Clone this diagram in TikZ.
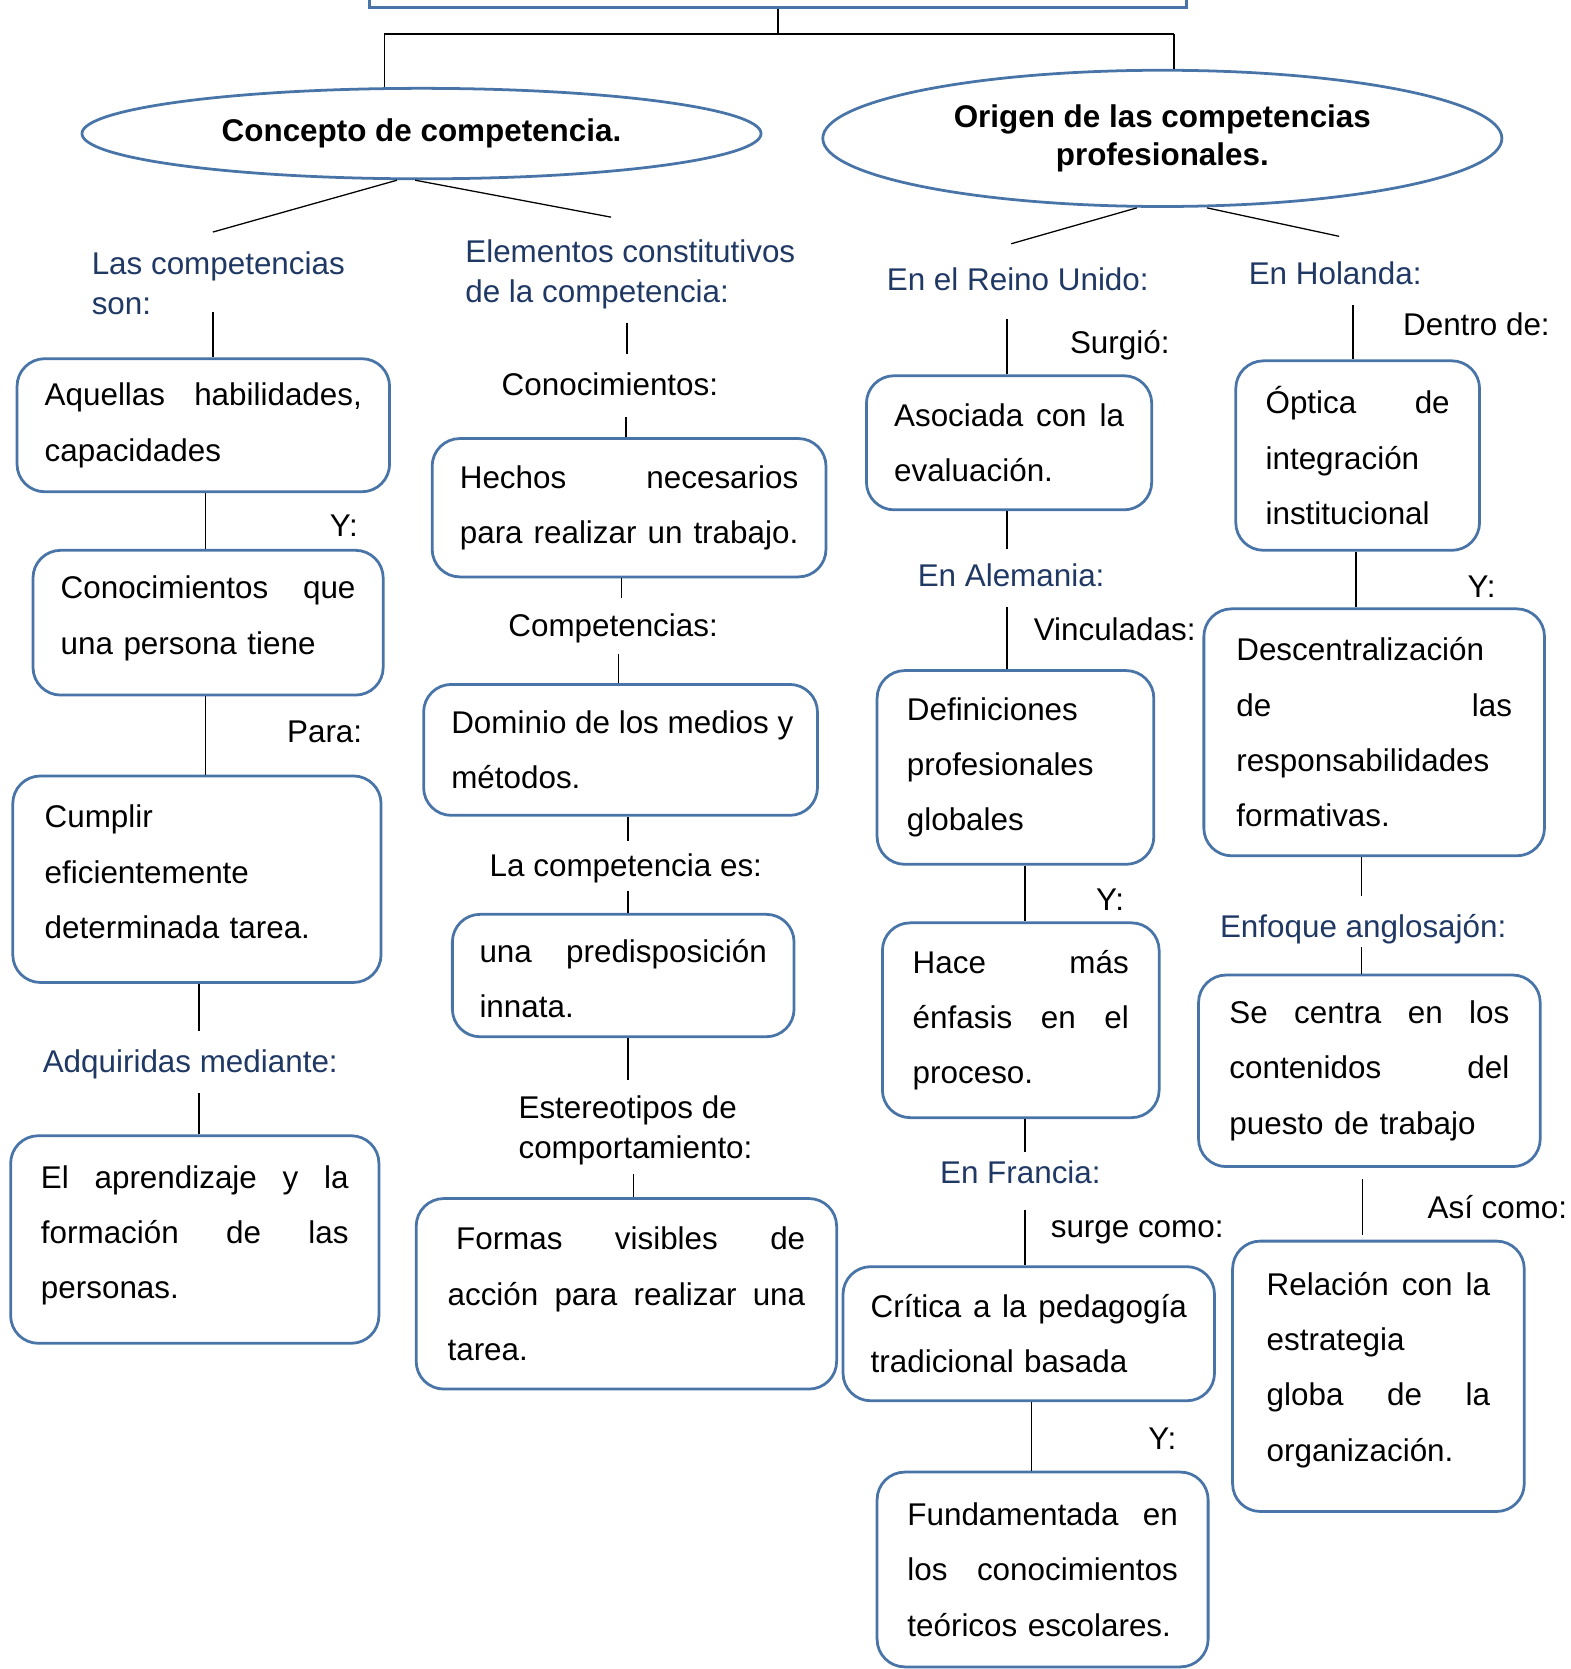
\documentclass[tikz,border=0pt]{standalone}
\usepackage{fontspec}
\setmainfont{Liberation Sans}
\usetikzlibrary{shapes.geometric,calc}
\setlength\parindent{0pt}
\definecolor{bord}{RGB}{72,116,168}
\definecolor{lab}{RGB}{31,56,100}
\newcommand\fs{\fontsize{29.5}{52}\selectfont}
\def\jw{100pt}
\newcommand\jus[1]{\leavevmode\hbox to \jw{\spaceskip=0.278em plus 1fil\relax #1}}
\newcommand\xdep[1]{\rule[-#1]{0pt}{1pt}}
\newcommand\xhei[1]{\rule{0pt}{#1}}
\begin{document}
\begin{tikzpicture}[x=1pt,y=-1pt,
  box/.style={draw=bord, line width=2.6pt, rounded corners=26pt, align=left, inner sep=0pt, font=\fs},
  tw/.code={\def\jw{#1}\pgfkeysalso{text width=#1}},
  ell/.style={draw=bord, line width=2.6pt, ellipse, inner sep=0pt, align=center, font=\fontsize{29.5}{36}\selectfont\bfseries},
  lbl/.style={inner sep=0pt, font=\fontsize{29.5}{38}\selectfont, align=left},
  blbl/.style={lbl, text=lab},
  con/.style={draw=black, line width=1.2pt}]
\useasboundingbox (0,0) rectangle (1475,1568);

% top box and ellipses
\node[draw=bord, line width=2.6pt, minimum width=768pt, minimum height=60pt, inner sep=0pt] (top) at (731,-23) {};
\node[ell, minimum width=638pt, minimum height=85pt] (e1) at (396,125.5) {Concepto de competencia.};
\node[ell, minimum width=638pt, minimum height=128pt] (e2) at (1092,130) {Origen de las competencias\\profesionales.};

% column 1
\node[box, minimum width=350pt, minimum height=125pt, tw=298pt] (A1) at (191,399.5) {\jus{Aquellas habilidades,}\\capacidades};
\node[box, minimum width=329pt, minimum height=136pt, tw=277pt] (A2) at (195.5,585) {\jus{Conocimientos que}\\una persona tiene\xdep{14pt}};
\node[box, minimum width=346pt, minimum height=194pt, tw=286pt] (A3) at (185,826) {Cumplir\\eficientemente\\determinada tarea.\xdep{14pt}};
\node[box, minimum width=346pt, minimum height=195pt, tw=289pt] (A4) at (183,1164.5) {\jus{El aprendizaje y la}\\\jus{formación de las}\\personas.\xdep{14pt}};

% column 2
\node[box, minimum width=370pt, minimum height=130pt, tw=318pt] (B1) at (591,477) {\jus{Hechos necesarios}\\\jus{para realizar un trabajo.}};
\node[box, minimum width=370pt, minimum height=123pt, tw=318pt] (B2) at (583,704.5) {\jus{Dominio de los medios y}\\métodos.};
\node[box, minimum width=321pt, minimum height=115pt, tw=270pt] (B3) at (585.5,916.5) {\jus{\xhei{28pt}una predisposición}\\innata.};
\node[box, minimum width=395pt, minimum height=179pt, tw=336pt] (B4) at (588.5,1215.5) {\jus{\hspace*{8pt}Formas visibles de}\\\jus{acción para realizar una}\\tarea.};

% column 3
\node[box, minimum width=268pt, minimum height=126pt, tw=216pt] (C1) at (948,416) {\jus{Asociada con la}\\evaluación.};
\node[box, minimum width=260pt, minimum height=182pt, tw=204pt] (C2) at (954,721) {Definiciones\\profesionales\\globales};
\node[box, minimum width=260pt, minimum height=183pt, tw=203pt] (C3) at (959,958.5) {\jus{Hace más}\\\jus{énfasis en el}\\proceso.};
\node[box, minimum width=349pt, minimum height=126pt, tw=297pt] (C4) at (966.5,1253) {\jus{Crítica a la pedagogía}\\tradicional basada};
\node[box, minimum width=311pt, minimum height=183pt, tw=254pt] (C5) at (979.5,1474.5) {\jus{Fundamentada en}\\\jus{los conocimientos}\\teóricos escolares.};

% column 4
\node[box, minimum width=229pt, minimum height=178pt, tw=173pt] (D1) at (1275.5,428) {\jus{Óptica de}\\integración\\institucional};
\node[box, minimum width=320pt, minimum height=232pt, tw=259pt] (D2) at (1291,688) {Descentralización\\\jus{de las}\\responsabilidades\\formativas.};
\node[box, minimum width=321pt, minimum height=180pt, tw=263pt] (D3) at (1286.5,1006) {\jus{Se centra en los}\\\jus{contenidos del}\\puesto de trabajo};
\node[box, minimum width=274pt, minimum height=254pt, tw=210pt] (D4) at (1295,1293) {\jus{Relación con la}\\estrategia\\\jus{globa de la}\\organización.\xdep{18pt}};

% labels
\node[blbl, anchor=west] (L1) at (86,266) {Las competencias\\son:};
\node[blbl, anchor=west] (L2) at (437,258) {Elementos constitutivos\\de la competencia:};
\node[blbl, anchor=west] (L3) at (833,262) {En el Reino Unido:};
\node[blbl, anchor=west] (L4) at (1173,257) {En Holanda:};
\node[lbl] (y1) at (323,494) {Y:};
\node[lbl] (para) at (305,688) {Para:};
\node[blbl, anchor=west] (L5) at (40,1000) {Adquiridas mediante:};
\node[lbl] (k1) at (573,361) {Conocimientos:};
\node[lbl] (k2) at (576,590) {Competencias:};
\node[lbl] (k3) at (588,816) {La competencia es:};
\node[lbl, anchor=west] (k4) at (487,1062) {Estereotipos de\\comportamiento:};
\node[lbl] (s1) at (1052,324) {Surgió:};
\node[blbl, anchor=west] (L6) at (862,540) {En Alemania:};
\node[lbl, anchor=west] (s2) at (971,591) {Vinculadas:};
\node[lbl] (y2) at (1043,845) {Y:};
\node[blbl, anchor=west] (L7) at (883,1101) {En Francia:};
\node[lbl, anchor=west] (s3) at (987,1158) {surge como:};
\node[lbl] (y3) at (1092,1352) {Y:};
\node[lbl, anchor=west] (s4) at (1318,305) {Dentro de:};
\node[lbl] (y4) at (1392,551) {Y:};
\node[blbl, anchor=west] (L8) at (1146,873) {Enfoque anglosajón:};
\node[lbl, anchor=west] (s5) at (1341,1134) {Así como:};

% connectors: top
\coordinate (jL) at (361,32);
\coordinate (jR) at (1103,32);
\draw[con] (top.south) -- (top.south |- jL);
\draw[con] (jL) -- (jR);
\draw[con] (jL) -- (jL |- e1.north);
\draw[con] (jR) -- (jR |- e2.north);

% ellipse branches
\coordinate (a1) at (200,218);
\coordinate (a2) at (574,204);
\coordinate (a3) at (950,229);
\coordinate (a4) at (1258,222);
\draw[con] ([xshift=-23pt]e1.south) -- (a1);
\draw[con] ([xshift=-6pt]e1.south) -- (a2);
\draw[con] ([xshift=-24pt]e2.south) -- (a3);
\draw[con] ([xshift=42pt]e2.south) -- (a4);

% column 1
\coordinate (p1) at (200,293);
\draw[con] (p1) -- (p1 |- A1.north);
\draw[con] ([xshift=2pt]A1.south) -- ([xshift=2pt]A1.south |- A2.north);
\draw[con] ([xshift=-2.5pt]A2.south) -- ([xshift=-2.5pt]A2.south |- A3.north);
\coordinate (p2) at (187,969);
\draw[con] (p2 |- A3.south) -- (p2);
\coordinate (p3) at (187,1027);
\draw[con] (p3) -- (p3 |- A4.north);

% column 2
\coordinate (q1) at (589,303);
\coordinate (q2) at (589,333);
\draw[con] (q1) -- (q2);
\coordinate (q3) at (588,392);
\draw[con] (q3) -- (q3 |- B1.north);
\coordinate (q4) at (584,562);
\draw[con] (q4 |- B1.south) -- (q4);
\coordinate (q5) at (581,614);
\draw[con] (q5) -- (q5 |- B2.north);
\coordinate (q6) at (590,790);
\draw[con] (q6 |- B2.south) -- (q6);
\coordinate (q7) at (590,837);
\draw[con] (q7) -- (q7 |- B3.north);
\coordinate (q8) at (590,1015);
\draw[con] (q8 |- B3.south) -- (q8);
\coordinate (q9) at (595,1103);
\draw[con] (q9) -- (q9 |- B4.north);

% column 3
\coordinate (r1) at (946,300);
\draw[con] (r1) -- (r1 |- C1.north);
\coordinate (r2) at (946,516);
\draw[con] (r2 |- C1.south) -- (r2);
\coordinate (r3) at (946,570);
\draw[con] (r3) -- (r3 |- C2.north);
\coordinate (r4) at (963,812);
\draw[con] (r4 |- C2.south) -- (r4 |- C3.north);
\coordinate (r5) at (963,1082);
\draw[con] (r5 |- C3.south) -- (r5);
\coordinate (r6) at (963,1137);
\draw[con] (r6) -- (r6 |- C4.north);
\coordinate (r7) at (969,1318);
\draw[con] (r7 |- C4.south) -- (r7 |- C5.north);

% column 4
\coordinate (t1) at (1271,287);
\draw[con] (t1) -- (t1 |- D1.north);
\coordinate (t2) at (1274,519);
\draw[con] (t2 |- D1.south) -- (t2 |- D2.north);
\coordinate (t3) at (1279,842);
\draw[con] (t3 |- D2.south) -- (t3);
\coordinate (t4) at (1279,890);
\draw[con] (t4) -- (t4 |- D3.north);
\coordinate (t5) at (1280,1108);
\coordinate (t6) at (1280,1160);
\draw[con] (t5) -- (t6);
\end{tikzpicture}
\end{document}
